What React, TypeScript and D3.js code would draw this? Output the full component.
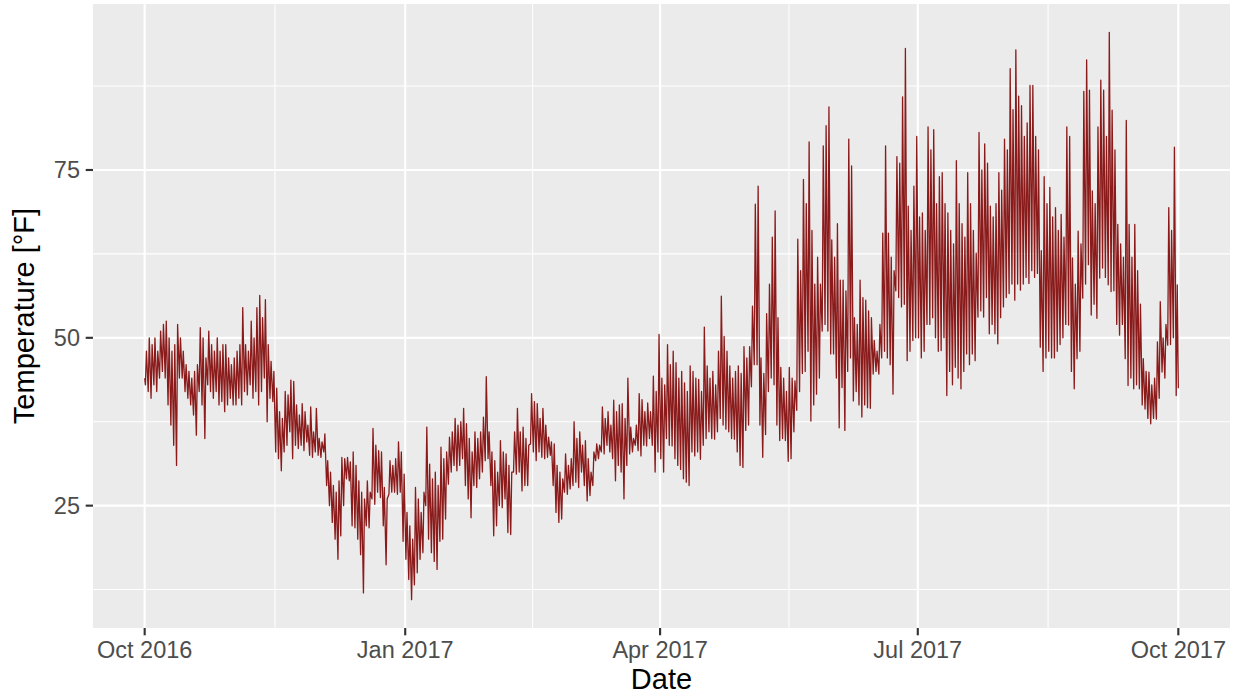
import React from "react";
import * as d3 from "d3";

// Daily highs / lows (°F), Oct 2016 – Sep 2017
const octHi = [48,50,49,50,48,51,52,52.5,50,48,49,52,50,48,46,45,44,45,46,51.5,50,47,51,49,48,50,48,49,49,47,46];
const octLo = [43,42,41,43,42,44,45,44,40,37,34,31,44,44,42,41,40,38.5,35.5,42,40,35,43,42,41,42,40,40.5,39,40,41];
const novHi = [47,48,49,54.5,49,48,52.5,50,54.5,56.3,53,55.7,49,46.5,45,42.5,39,38,42,41.5,43.7,43.5,40,38.5,40.2,39,37,39.7,36,39.5];
const novLo = [40,40,41,40,42,41.5,43,41,42,40,42,44,37.5,41,40.5,33,32,30.2,33,34,36,32,34,33.5,34,33.2,34.5,32.5,32.2,33];
const decHi = [35,34.5,35.7,31.7,30,28,27,28.7,32.2,32,32.2,31.5,33,31,28.7,27,26,28.7,27,36.5,34,33.2,33,27.7,26,31.7,31,32,34.5,33,29.7];
const decLo = [32.5,32.2,33,28,25,22.5,20,17,20.5,25,29,28.7,22,21.7,20,17.7,12,22,21.7,26,25.2,27,26.2,22,16.2,26.7,27,27,26.7,27,19.7];
const janHi = [24,22,20,27.7,26,24,27,36.7,31.2,29,30,28,33.7,32,33,35.2,36,38,37,37.5,39.5,37.2,35,33,36,35,36,38.2,44.2,36,33];
const janLo = [17,14,11,13.2,15,17,18,25,20,18,16.7,15.5,19.7,20,23,28.2,30,31,30.2,31,32,28,26,23.2,28,27.7,29,30,31.7,32,28];
const febHi = [31.7,30,34.7,33,32.7,31,30,36,39.5,36,36.7,35,34,41.7,40.5,40.2,38,39.5,37,35.2,34.5,34.2,31,30,29,32.7,31,32];
const febLo = [20.5,22,25,24.7,26,21,20.7,30,29.7,30,27.2,28,28,34.2,33,31.7,33,32.2,32,32.2,32.5,28,24,22.5,23,27,26.7,27.5];
const marHi = [37.5,35,36,34,34.7,32,30,33,34.2,34,39.7,38,39,37,40.7,39,40,40.2,38,44,36.7,35,37,41.7,40.8,39,40.3,39,44.3,42,50.5];
const marLo = [28,28.5,27.7,30,28,25.7,26.5,28,31.7,32,33,32.7,34,33,32,28.7,31,30,26,31,32.7,33,34,33.2,32.4,34,33.9,35,34,30,33];
const aprHi = [44,43,49,46,48,46.3,44,45,43.3,42,45.8,45,44,43.8,42,51.6,45.8,44,45,43,48,56.2,50.2,48,45.8,44,45,45.8,44.7,48.7];
const aprLo = [32,30,35,34,33.9,32,31,30.4,29,28.5,28,33,32.4,33,31.9,34,35,36,35,34.9,36,38,37,36.4,36,35,34.9,33,31,30.7];
const mayHi = [47,48.7,54.7,69.9,72.6,47,44.7,53.6,58,65,68.9,53,45.6,44,42,45.6,44,43.6,64.7,60,73.6,70,79.2,66,58,62,58,78.6,81.6,84.4,64.6];
const mayLo = [36.2,37,42.7,46,46,37,32.2,35.6,42,44,43,37,34.7,35,34.7,31.6,32,36,39.2,42,44.7,45,48,37.6,40,41.6,44,51,52,51,47.6];
const junHi = [62,67,58.6,58.6,57,79.6,75.6,53,52,58.6,56,55.6,54,53,49.6,48,52,65.6,78.6,65.6,62,60,77,76,85.9,93.1,69.6,66,72.6,80];
const junLo = [47.6,44,36.6,42.6,36.2,45,47,40.6,42,40,38.2,40,39.6,39.5,44.6,45,44.6,47,48,47,46,41.6,57,56,54.6,55,46.6,48,49.6,50];
const julHi = [68,68.6,66,81.4,78,81,70,74,74.6,70,68.6,66,64,76.4,70,67,65,74.6,70,66,62.6,80.6,75,78.9,76,69.6,68,70,74.6,72,79.6];
const julLo = [50,47,48,52,52,53,50,48,48.1,50,41.4,45,43,45.6,44,42.4,45,47.6,46,47.6,46.6,53.1,54,53.1,56,50.6,52,50.6,49.1,53,54.6];
const augHi = [78,90.1,84,92.9,86,84.6,80,82,87.6,87.6,80,78,63,74,70,72.4,68,69.4,66,68.4,65,81.4,80,61.9,58,65.9,64,86.7,91.4,86.9,71.9];
const augLo = [56,56.6,58,55.6,58,57.1,58,59,58.1,60,59,59.6,48.6,45,47,48,47,47,48,49,50,52,51.9,45,42.4,46.9,48,55.9,58,60.9,53.4];
const sepHi = [70,81.4,88.4,86.9,80,95.5,83.9,78,66.9,64,62,82.4,66.9,62,66.9,60,55,46.9,45,44.9,43,44,49.4,55.4,50,52,69.4,66,78.4,57.9];
const sepLo = [55,52.9,58.9,60.4,59,57.9,56.9,57,52,50.4,52,46.9,42.9,44,42.4,43,42.4,40,39.4,38,37.2,38,37.9,41,44.9,44,48.9,49,50,41.4];
const firstValue = 44;
const lastValue = 42.5;

const xTickLabels = ["Oct 2016", "Jan 2017", "Apr 2017", "Jul 2017", "Oct 2017"];
const xTickDates = [Date.UTC(2016, 9, 1), Date.UTC(2017, 0, 1), Date.UTC(2017, 3, 1), Date.UTC(2017, 6, 1), Date.UTC(2017, 9, 1)];
const yTicks = [25, 50, 75];

const W = 1236, H = 696;
const panel = { left: 93, right: 1230, top: 4, bottom: 628 };
const FONT = "'Liberation Sans', Arial, Helvetica, sans-serif";

export default function App() {
  const DAY = 86400000;
  const start = Date.UTC(2016, 9, 1);
  const end = Date.UTC(2017, 9, 1);
  const his = [...octHi, ...novHi, ...decHi, ...janHi, ...febHi, ...marHi, ...aprHi, ...mayHi, ...junHi, ...julHi, ...augHi, ...sepHi];
  const los = [...octLo, ...novLo, ...decLo, ...janLo, ...febLo, ...marLo, ...aprLo, ...mayLo, ...junLo, ...julLo, ...augLo, ...sepLo];

  const pts: { t: number; v: number }[] = [{ t: start, v: firstValue }];
  his.forEach((h, d) => {
    pts.push({ t: start + (d + 0.25) * DAY, v: los[d] });
    pts.push({ t: start + (d + 0.625) * DAY, v: h });
  });
  pts.push({ t: end, v: lastValue });

  const span = end - start;
  const x = d3.scaleUtc().domain([new Date(start - 0.05 * span), new Date(end + 0.05 * span)]).range([panel.left, panel.right]);
  const all = pts.map((p) => p.v);
  const vmin = d3.min(all) as number, vmax = d3.max(all) as number;
  const pad = (vmax - vmin) * 0.05;
  const y = d3.scaleLinear().domain([vmin - pad, vmax + pad]).range([panel.bottom, panel.top]);

  const line = d3.line<{ t: number; v: number }>().x((p) => x(new Date(p.t))).y((p) => y(p.v));

  const xMinor = xTickDates.slice(0, -1).map((t, i) => (t + xTickDates[i + 1]) / 2);
  const yBreaks = [0, ...yTicks, 100];
  const yMinor = yBreaks.slice(0, -1).map((v, i) => (v + yBreaks[i + 1]) / 2)
    .filter((v) => v > y.domain()[0] && v < y.domain()[1]);

  return (
    <svg width={W} height={H} style={{ position: "absolute", left: 0, top: 0, background: "#fff" }}>
      <rect x={panel.left} y={panel.top} width={panel.right - panel.left} height={panel.bottom - panel.top} fill="#EBEBEB" />
      {yMinor.map((v) => (
        <line key={"ym" + v} x1={panel.left} x2={panel.right} y1={y(v)} y2={y(v)} stroke="#fff" strokeWidth={1.07} />
      ))}
      {xMinor.map((t) => (
        <line key={"xm" + t} x1={x(new Date(t))} x2={x(new Date(t))} y1={panel.top} y2={panel.bottom} stroke="#fff" strokeWidth={1.07} />
      ))}
      {yTicks.map((v) => (
        <line key={"yM" + v} x1={panel.left} x2={panel.right} y1={y(v)} y2={y(v)} stroke="#fff" strokeWidth={2.13} />
      ))}
      {xTickDates.map((t) => (
        <line key={"xM" + t} x1={x(new Date(t))} x2={x(new Date(t))} y1={panel.top} y2={panel.bottom} stroke="#fff" strokeWidth={2.13} />
      ))}
      <path d={line(pts) || ""} fill="none" stroke="#8B1A1A" strokeWidth={1.3} strokeLinejoin="round" />
      {yTicks.map((v) => (
        <g key={"yt" + v}>
          <line x1={panel.left - 7.3} x2={panel.left} y1={y(v)} y2={y(v)} stroke="#333333" strokeWidth={2.13} />
          <text x={panel.left - 13} y={y(v) + 8.3} textAnchor="end" fontFamily={FONT} fontSize={23.5} fill="#4D4D4D">{v}</text>
        </g>
      ))}
      {xTickDates.map((t, i) => (
        <g key={"xt" + t}>
          <line x1={x(new Date(t))} x2={x(new Date(t))} y1={panel.bottom} y2={panel.bottom + 7.3} stroke="#333333" strokeWidth={2.13} />
          <text x={x(new Date(t))} y={658} textAnchor="middle" fontFamily={FONT} fontSize={23.5} fill="#4D4D4D">{xTickLabels[i]}</text>
        </g>
      ))}
      <text x={(panel.left + panel.right) / 2} y={689} textAnchor="middle" fontFamily={FONT} fontSize={29} fill="#000">Date</text>
      <text transform={`translate(34,${(panel.top + panel.bottom) / 2}) rotate(-90)`} textAnchor="middle" fontFamily={FONT} fontSize={29} fill="#000">Temperature [°F]</text>
    </svg>
  );
}
